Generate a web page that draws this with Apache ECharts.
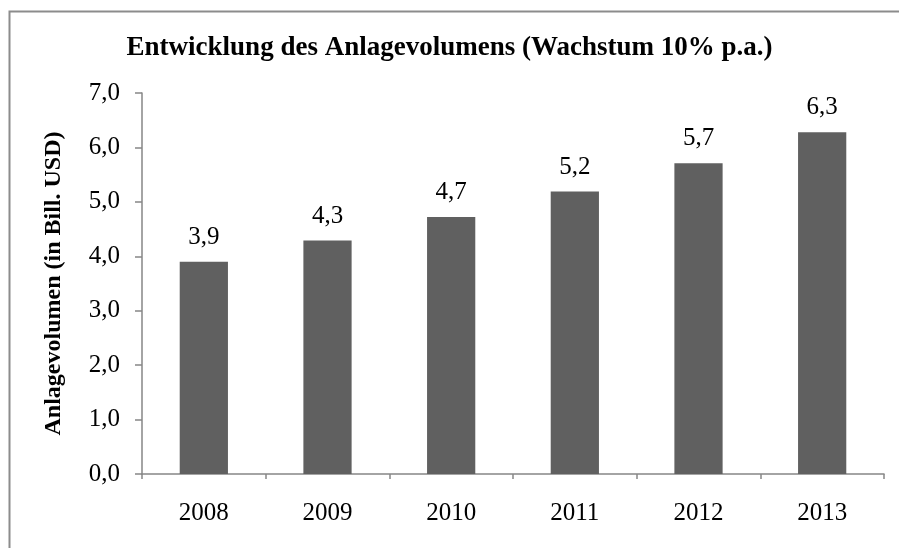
<!DOCTYPE html>
<html>
<head>
<meta charset="utf-8">
<script src="https://cdn.jsdelivr.net/npm/echarts@6/dist/echarts.min.js"></script>
<style>
  html, body { margin: 0; padding: 0; background: #fff; }
  #chart { width: 899px; height: 548px; }
</style>
</head>
<body>
<div id="chart"></div>
<script>
const years = ['2008', '2009', '2010', '2011', '2012', '2013']
// Anlagevolumen in Bill. USD
const volumes = [3.9, 4.29, 4.72, 5.19, 5.71, 6.28]
const yTicks = [0, 1, 2, 3, 4, 5, 6, 7]

const serif = '"Liberation Serif", "DejaVu Serif", serif'
const fmt = v => v.toFixed(1).replace('.', ',')

const chart = echarts.init(document.getElementById('chart'))
chart.setOption({
  animation: false,
  backgroundColor: '#fff',
  // frame: only top and left edges are inside the picture
  graphic: [{
    type: 'polyline',
    shape: { points: [[9.5, 1000], [9.5, 11.5], [1000, 11.5]] },
    style: { fill: 'none', stroke: '#8c8c8c', lineWidth: 2 }
  }],
  title: {
    text: 'Entwicklung des Anlagevolumens (Wachstum 10% p.a.)',
    left: 'center',
    top: 30,
    textStyle: { fontFamily: serif, fontWeight: 'bold', fontSize: 27, color: '#000' }
  },
  grid: { left: 142, right: 15, top: 93, bottom: 74 },
  xAxis: {
    type: 'category',
    data: years,
    axisLine: { lineStyle: { color: '#868686', width: 1.5 } },
    axisTick: { show: true, length: 5, lineStyle: { color: '#868686', width: 1.5 } },
    axisLabel: { fontFamily: serif, fontSize: 25, color: '#000', margin: 27 }
  },
  yAxis: {
    type: 'value',
    min: yTicks[0],
    max: yTicks[yTicks.length - 1],
    interval: 1,
    name: 'Anlagevolumen (in Bill. USD)',
    nameLocation: 'middle',
    nameGap: 76,
    nameTextStyle: { fontFamily: serif, fontWeight: 'bold', fontSize: 24, color: '#000' },
    splitLine: { show: false },
    axisLine: { show: true, lineStyle: { color: '#868686', width: 1.5 } },
    axisTick: { show: true, length: 7, lineStyle: { color: '#868686', width: 1.5 } },
    axisLabel: { fontFamily: serif, fontSize: 25, color: '#000', margin: 22, formatter: fmt }
  },
  series: [{
    type: 'bar',
    data: volumes,
    barWidth: '39%',
    itemStyle: { color: '#606060' },
    label: {
      show: true,
      position: 'top',
      distance: 12,
      fontFamily: serif,
      fontSize: 25,
      color: '#000',
      formatter: p => fmt(p.value)
    }
  }]
})
</script>
</body>
</html>
